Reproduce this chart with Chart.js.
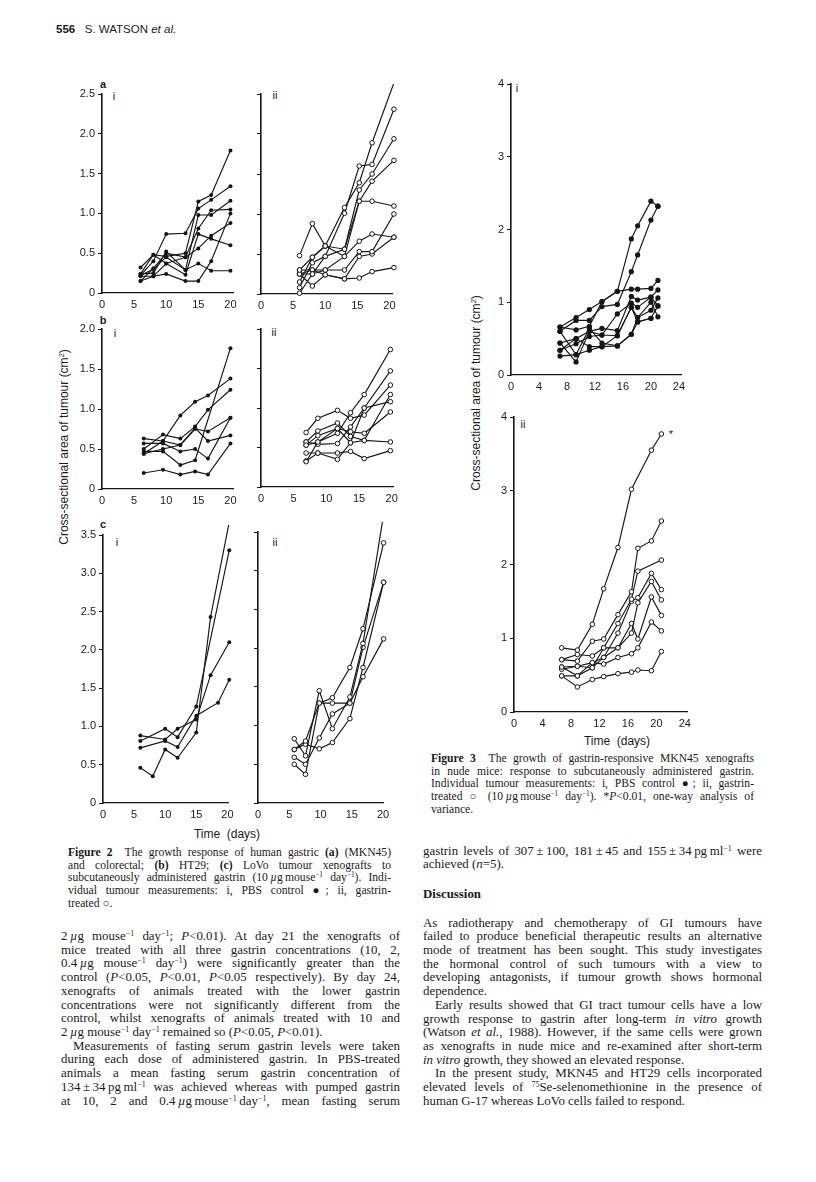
<!DOCTYPE html>
<html lang="en">
<head>
<meta charset="UTF-8">
<title>Watson et al. 556 - Figures 2 and 3</title>
<script src="https://cdn.jsdelivr.net/npm/chart.js"></script>
<style>
  body { margin: 0; background: #fff; }
  #page { position: relative; width: 816px; height: 1182px; overflow: hidden;
          font-family: "Liberation Serif", "Times New Roman", serif; color: #1a1a1a; }
  canvas { position: absolute; }
  .sans { font-family: "Liberation Sans", Arial, Helvetica, sans-serif; }
  .lab { position: absolute; width: 40px; height: 14px; line-height: 14px; text-align: center;
         white-space: nowrap; font-size: 11px; color: #1a1a1a; }
  .ytitle { position: absolute; transform: translate(-50%, -50%) rotate(-90deg); white-space: nowrap; font-size: 12px; color: #1a1a1a; }
  .col { position: absolute; font-size: 12.9px; line-height: 13.72px; }
  .cap { position: absolute; font-size: 11.6px; line-height: 12.7px; }
  .ln { white-space: nowrap; text-align: justify; text-align-last: justify; }
  .ln.end { text-align-last: left; }
  .ind { text-indent: 12px; }
  sup { font-size: 0.62em; line-height: 0; vertical-align: 0.55em; }
</style>
</head>
<body>
<div id="page">

  <div class="sans" style="position:absolute; left:56px; top:23px; font-size:11.5px; white-space:nowrap;">
    <b>556</b>&nbsp;&nbsp;&nbsp;S. WATSON <i>et al.</i>
  </div>

  <!-- figure 2 panel letters (boxes 40x14, centred on the letter) -->
  <div class="lab sans" style="left:83px; top:77px; font-weight:bold;">a</div>
  <div class="lab sans" style="left:94px; top:89px;">i</div>
  <div class="lab sans" style="left:255px; top:88px;">ii</div>
  <div class="lab sans" style="left:83px; top:313px; font-weight:bold;">b</div>
  <div class="lab sans" style="left:95px; top:326px;">i</div>
  <div class="lab sans" style="left:254px; top:325px;">ii</div>
  <div class="lab sans" style="left:83px; top:517px; font-weight:bold;">c</div>
  <div class="lab sans" style="left:97px; top:535px;">i</div>
  <div class="lab sans" style="left:255px; top:535px;">ii</div>
  <div class="ytitle sans" style="left:64px; top:447px;">Cross-sectional area of tumour (cm<sup>2</sup>)</div>
  <div class="lab sans" style="left:187px; top:827px; width:80px; font-size:12px;">Time&nbsp;&nbsp;(days)</div>

  <!-- figure 3 labels -->
  <div class="lab sans" style="left:497px; top:81px;">i</div>
  <div class="lab sans" style="left:503px; top:417px;">ii</div>
  <div class="lab sans" style="left:651px; top:427px;">*</div>
  <div class="ytitle sans" style="left:476px; top:393px;">Cross-sectional area of tumour (cm<sup>2</sup>)</div>
  <div class="lab sans" style="left:577px; top:734px; width:80px; font-size:12px;">Time&nbsp;&nbsp;(days)</div>

  <!-- captions -->
  <div class="cap" style="left:68px; top:847px; width:323px;">
    <div class="ln"><b>Figure 2</b>&nbsp; The growth response of human gastric <b>(a)</b> (MKN45)</div>
    <div class="ln">and colorectal; <b>(b)</b> HT29; <b>(c)</b> LoVo tumour xenografts to</div>
    <div class="ln">subcutaneously administered gastrin (10&thinsp;<i>µ</i>g&thinsp;mouse<sup>−1</sup> day<sup>−1</sup>). Indi-</div>
    <div class="ln">vidual tumour measurements: i, PBS control ●; ii, gastrin-</div>
    <div class="ln end">treated ○.</div>
  </div>
  <div class="cap" style="left:431px; top:753px; width:323px;">
    <div class="ln"><b>Figure 3</b>&nbsp; The growth of gastrin-responsive MKN45 xenografts</div>
    <div class="ln">in nude mice: response to subcutaneously administered gastrin.</div>
    <div class="ln">Individual tumour measurements: i, PBS control ●; ii, gastrin-</div>
    <div class="ln">treated ○ (10&thinsp;<i>µ</i>g&thinsp;mouse<sup>−1</sup> day<sup>−1</sup>). *<i>P</i>&lt;0.01, one-way analysis of</div>
    <div class="ln end">variance.</div>
  </div>

  <!-- left body column -->
  <div class="col" style="left:61px; top:930px; width:339px;">
    <div class="ln">2&thinsp;<i>µ</i>g mouse<sup>−1</sup> day<sup>−1</sup>; <i>P</i>&lt;0.01). At day 21 the xenografts of</div>
    <div class="ln">mice treated with all three gastrin concentrations (10, 2,</div>
    <div class="ln">0.4&thinsp;<i>µ</i>g mouse<sup>−1</sup> day<sup>−1</sup>) were significantly greater than the</div>
    <div class="ln">control (<i>P</i>&lt;0.05, <i>P</i>&lt;0.01, <i>P</i>&lt;0.05 respectively). By day 24,</div>
    <div class="ln">xenografts of animals treated with the lower gastrin</div>
    <div class="ln">concentrations were not significantly different from the</div>
    <div class="ln">control, whilst xenografts of animals treated with 10 and</div>
    <div class="ln end">2&thinsp;<i>µ</i>g mouse<sup>−1</sup> day<sup>−1</sup> remained so (<i>P</i>&lt;0.05, <i>P</i>&lt;0.01).</div>
    <div class="ln ind">Measurements of fasting serum gastrin levels were taken</div>
    <div class="ln">during each dose of administered gastrin. In PBS-treated</div>
    <div class="ln">animals a mean fasting serum gastrin concentration of</div>
    <div class="ln">134&thinsp;±&thinsp;34&thinsp;pg&thinsp;ml<sup>−1</sup> was achieved whereas with pumped gastrin</div>
    <div class="ln">at 10, 2 and 0.4&thinsp;<i>µ</i>g&thinsp;mouse<sup>−1</sup>&thinsp;day<sup>−1</sup>, mean fasting serum</div>
  </div>

  <!-- right body column -->
  <div class="col" style="left:423px; top:844.5px; width:339px;">
    <div class="ln">gastrin levels of 307&thinsp;±&thinsp;100, 181&thinsp;±&thinsp;45 and 155&thinsp;±&thinsp;34&thinsp;pg&thinsp;ml<sup>−1</sup> were</div>
    <div class="ln end">achieved (<i>n</i>=5).</div>
  </div>
  <div class="col" style="left:423px; top:888px; width:339px;"><b>Discussion</b></div>
  <div class="col" style="left:423px; top:916.5px; width:339px;">
    <div class="ln">As radiotherapy and chemotherapy of GI tumours have</div>
    <div class="ln">failed to produce beneficial therapeutic results an alternative</div>
    <div class="ln">mode of treatment has been sought. This study investigates</div>
    <div class="ln">the hormonal control of such tumours with a view to</div>
    <div class="ln">developing antagonists, if tumour growth shows hormonal</div>
    <div class="ln end">dependence.</div>
    <div class="ln ind">Early results showed that GI tract tumour cells have a low</div>
    <div class="ln">growth response to gastrin after long-term <i>in vitro</i> growth</div>
    <div class="ln">(Watson <i>et al.</i>, 1988). However, if the same cells were grown</div>
    <div class="ln">as xenografts in nude mice and re-examined after short-term</div>
    <div class="ln end"><i>in vitro</i> growth, they showed an elevated response.</div>
    <div class="ln ind">In the present study, MKN45 and HT29 cells incorporated</div>
    <div class="ln">elevated levels of <sup>75</sup>Se-selenomethionine in the presence of</div>
    <div class="ln end">human G-17 whereas LoVo cells failed to respond.</div>
  </div>

</div>

<script>
// ---- data (day, cross-sectional area cm2) ----

// Fig 2 a: MKN45
const f2aTicksX = [0, 5, 10, 15, 20];
const f2aTicksY = [0, 0.5, 1.0, 1.5, 2.0, 2.5];
const f2aiDays = [6, 8, 10, 13, 15, 17, 20];
const f2aiValues = [
  [0.32, 0.48, 0.46, 0.50, 1.15, 1.23, 1.79],
  [0.22, 0.40, 0.74, 0.75, 1.06, 1.17, 1.34],
  [0.24, 0.25, 0.52, 0.29, 0.98, 0.98, 1.16],
  [0.15, 0.31, 0.50, 0.45, 0.81, 1.04, 1.05],
  [0.21, 0.21, 0.37, 0.45, 0.56, 0.72, 0.88],
  [0.24, 0.48, 0.37, 0.23, 0.74, 0.68, 0.60],
  [0.15, 0.21, 0.24, 0.15, 0.15, 0.40, 1.00],
  [0.22, 0.30, 0.45, 0.29, 0.37, 0.28, 0.28]
];
const f2aiiDays = [6, 8, 10, 13, 15.3, 17.3, 20.7];
const f2aiiValues = [
  [0.48, 0.88, 0.60, 1.08, 1.39, 1.89, 2.64],
  [0.01, 0.25, 0.47, 1.01, 1.60, 1.62, 2.31],
  [0.08, 0.39, 0.47, 0.56, 1.30, 1.50, 1.94],
  [0.15, 0.46, 0.60, 0.47, 1.16, 1.41, 1.67],
  [0.30, 0.46, 0.60, 0.56, 1.16, 1.16, 1.10],
  [0.25, 0.25, 0.30, 0.47, 0.66, 0.75, 0.71],
  [0.30, 0.30, 0.30, 0.30, 0.53, 0.53, 1.00],
  [0.25, 0.10, 0.24, 0.19, 0.47, 0.50, 0.71],
  [0.25, 0.30, 0.24, 0.19, 0.20, 0.28, 0.33]
];

// Fig 2 b: HT29
const f2bTicksY = [0, 0.5, 1.0, 1.5, 2.0];
const f2biDays = [6.5, 9.5, 12.2, 14.5, 16.5, 20];
const f2biValues = [
  [0.44, 0.60, 0.92, 1.09, 1.17, 1.38],
  [0.50, 0.68, 0.63, 0.78, 0.99, 1.24],
  [0.63, 0.60, 0.55, 0.76, 0.60, 0.67],
  [0.57, 0.57, 0.47, 0.50, 0.38, 0.89],
  [0.47, 0.47, 0.30, 0.36, null, 1.76],
  [0.20, 0.24, 0.18, 0.22, 0.18, 0.57],
  [0.44, 0.50, 0.55, 0.75, 0.72, 0.89]
];
const f2biiDays = [6.9, 8.7, 11.7, 13.7, 15.8, 19.8];
const f2biiValues = [
  [0.32, 0.57, 0.68, 0.94, 1.17, 1.74],
  [0.53, 0.65, 0.74, 0.56, 1.00, 1.47],
  [0.69, 0.87, 0.97, 0.87, 0.91, 1.29],
  [0.57, 0.71, 0.81, 0.64, 0.59, 1.17],
  [0.57, 0.54, 0.55, 0.76, 1.00, 1.08],
  [0.53, 0.57, 0.74, 0.70, 0.68, 0.95],
  [0.43, 0.43, 0.43, 0.45, 0.36, 0.46],
  [0.33, 0.43, 0.35, 0.56, 0.59, 0.57]
];

// Fig 2 c: LoVo
const f2cTicksY = [0, 0.5, 1.0, 1.5, 2.0, 2.5, 3.0, 3.5];
const f2ciDays = [6, 8, 10, 12, 15, 17.3, 18.5, 20.3];
const f2ciValues = [
  [0.46, 0.35, 0.70, 0.59, 0.92, 2.43, null, 3.67],
  [0.88, null, 0.83, 0.97, 1.09, 1.67, null, 2.10],
  [0.81, null, 0.97, 0.86, 1.26, null, null, 3.30],
  [0.72, null, 0.81, 0.73, 1.14, null, 1.31, 1.61]
];
const f2ciiDays = [5.8, 7.6, 9.8, 11.9, 14.7, 16.8, 20.1];
const f2ciiValues = [
  [0.83, 0.61, 1.45, 0.96, 1.37, 2.06, 3.73],
  [0.69, 0.80, 1.29, 1.36, 1.75, 2.25, 3.36],
  [0.59, 0.50, 0.84, 1.15, 1.29, 2.01, 2.85],
  [0.50, 0.37, 1.29, 1.29, 1.29, 1.63, 2.12],
  [0.69, 0.76, 0.70, 0.78, 1.09, 1.75, 2.85]
];

// Fig 3: MKN45, PBS control (i) and gastrin (ii)
const f3TicksX = [0, 4, 8, 12, 16, 20, 24];
const f3TicksY = [0, 1, 2, 3, 4];
const f3iDays = [7, 9.3, 11.2, 13, 15.2, 17.2, 18.1, 20, 21];
const f3iValues = [
  [0.66, 0.79, 0.90, 1.01, 1.15, 1.87, 2.05, 2.39, 2.32],
  [0.60, 0.75, 0.75, 0.94, 0.97, 1.42, 1.65, 2.13, 2.32],
  [0.66, 0.62, 0.67, 1.01, 1.15, 1.18, 1.18, 1.19, 1.30],
  [0.44, 0.50, 0.60, 0.64, 0.61, 1.08, 1.03, 1.07, 1.17],
  [0.34, 0.43, 0.53, 0.55, 0.84, 0.99, 0.93, 1.07, 0.95],
  [0.26, 0.28, 0.34, 0.39, 0.40, 0.56, 0.79, 0.89, 1.06],
  [0.44, 0.18, 0.60, 0.55, 0.54, 0.93, 0.73, 0.78, 0.95],
  [0.34, 0.50, 0.39, 0.39, 0.54, 0.93, 0.79, 1.00, 0.80],
  [0.60, 0.28, 0.64, 0.44, 0.40, 0.56, 0.73, 0.78, null]
];
const f3iiDays = [6.7, 8.9, 11, 12.6, 14.6, 16.5, 17.4, 19.3, 20.7];
const f3iiValues = [
  [0.87, 0.84, 1.19, 1.67, 2.23, 3.02, null, 3.55, 3.77],
  [0.71, 0.69, 0.96, 0.99, 1.32, 1.63, 2.22, 2.32, 2.59],
  [0.71, 0.78, 0.76, 0.87, 1.20, 1.53, 1.91, null, 2.06],
  [0.61, 0.62, 0.67, 0.74, 1.07, 1.50, 1.55, 1.88, 1.66],
  [0.49, 0.49, 0.60, 0.87, 0.87, 1.07, 1.48, 1.77, 1.52],
  [0.58, 0.62, 0.60, 0.74, 0.87, 1.20, 0.99, 1.56, 1.31],
  [0.61, 0.49, 0.67, 0.65, 0.74, 0.79, 0.87, 1.22, 1.10],
  [0.49, 0.34, 0.44, 0.48, 0.52, 0.54, 0.57, 0.56, 0.82]
];

// ---- drawing ----
const TICK_FONT = { family: '"Liberation Sans", Arial, sans-serif', size: 11 };
const INK = '#151515';
const fmt1 = v => v === 0 ? '0' : v.toFixed(1);

function drawPanel(p) {
  const YW = 40, PT = 10, PR = 18, XH = 22;
  const plotW = Math.round(p.xMax * p.pxPerDay);
  const plotH = Math.round(p.y0 - p.yTop);
  const cv = document.createElement('canvas');
  cv.width = YW + plotW + PR;
  cv.height = PT + plotH + XH;
  cv.style.left = (Math.round(p.x0) - YW) + 'px';
  cv.style.top = (Math.round(p.yTop) - PT) + 'px';
  document.getElementById('page').appendChild(cv);

  const datasets = p.values.map(vals => ({
    data: p.days.map((d, i) => ({ x: d, y: vals[i] })),
    borderColor: INK,
    borderWidth: 1.15,
    tension: 0,
    spanGaps: true,
    clip: false,
    pointRadius: p.open ? 2.3 : p.r,
    pointBackgroundColor: p.open ? '#fff' : INK,
    pointBorderColor: INK,
    pointBorderWidth: p.open ? 1 : 0
  }));

  new Chart(cv, {
    type: 'line',
    data: { datasets: datasets },
    options: {
      responsive: false,
      animation: false,
      events: [],
      layout: { padding: { left: 0, top: PT, right: PR, bottom: 0 } },
      plugins: { legend: { display: false }, tooltip: { enabled: false } },
      scales: {
        x: {
          type: 'linear', min: 0, max: p.xMax,
          afterBuildTicks: s => { s.ticks = p.xTicks.map(v => ({ value: v })); },
          afterFit: s => { s.height = XH; },
          grid: { display: false, drawTicks: false },
          border: { display: true, color: INK, width: 1.3 },
          ticks: { font: TICK_FONT, color: '#1a1a1a', padding: 5, maxRotation: 0, autoSkip: false }
        },
        y: {
          type: 'linear', min: 0, max: p.yMax,
          afterBuildTicks: s => { s.ticks = p.yTicks.map(v => ({ value: v })); },
          afterFit: s => { s.width = YW; },
          grid: { drawOnChartArea: false, drawTicks: true, tickLength: 4, color: INK, lineWidth: 1 },
          border: { display: true, color: INK, width: 1.6 },
          ticks: { display: p.yLabels, font: TICK_FONT, color: '#1a1a1a', padding: 3, autoSkip: false,
                   callback: v => p.fmt(v) }
        }
      }
    }
  });
}

drawPanel({ days: f2aiDays, values: f2aiValues, x0: 101.5, pxPerDay: 6.43, xMax: 20.4, y0: 293.3, yTop: 94, yMax: 2.5,
            xTicks: f2aTicksX, yTicks: f2aTicksY, yLabels: true, fmt: fmt1, open: false, r: 2 });
drawPanel({ days: f2aiiDays, values: f2aiiValues, x0: 260.5, pxPerDay: 6.42, xMax: 20.4, y0: 293, yTop: 93.5, yMax: 2.5,
            xTicks: f2aTicksX, yTicks: f2aTicksY, yLabels: false, fmt: fmt1, open: true });
drawPanel({ days: f2biDays, values: f2biValues, x0: 101.7, pxPerDay: 6.42, xMax: 20.4, y0: 488, yTop: 328.5, yMax: 2.0,
            xTicks: f2aTicksX, yTicks: f2bTicksY, yLabels: true, fmt: fmt1, open: false, r: 2 });
drawPanel({ days: f2biiDays, values: f2biiValues, x0: 261, pxPerDay: 6.55, xMax: 20.2, y0: 487, yTop: 329, yMax: 2.0,
            xTicks: f2aTicksX, yTicks: f2bTicksY, yLabels: false, fmt: fmt1, open: true });
drawPanel({ days: f2ciDays, values: f2ciValues, x0: 102.5, pxPerDay: 6.23, xMax: 20.1, y0: 803.3, yTop: 535, yMax: 3.5,
            xTicks: f2aTicksX, yTicks: f2cTicksY, yLabels: true, fmt: fmt1, open: false, r: 2 });
drawPanel({ days: f2ciiDays, values: f2ciiValues, x0: 258, pxPerDay: 6.27, xMax: 20, y0: 802.3, yTop: 531.7, yMax: 3.5,
            xTicks: f2aTicksX, yTicks: f2cTicksY, yLabels: false, fmt: fmt1, open: true });
drawPanel({ days: f3iDays, values: f3iValues, x0: 511, pxPerDay: 7.0, xMax: 24.3, y0: 375, yTop: 84.3, yMax: 4,
            xTicks: f3TicksX, yTicks: f3TicksY, yLabels: true, fmt: v => String(v), open: false, r: 2.6 });
drawPanel({ days: f3iiDays, values: f3iiValues, x0: 514, pxPerDay: 7.1, xMax: 24.3, y0: 712.7, yTop: 417.3, yMax: 4,
            xTicks: f3TicksX, yTicks: f3TicksY, yLabels: true, fmt: v => String(v), open: true });

// squeeze any text line that is wider than its column
document.querySelectorAll('.ln').forEach(el => {
  const over = el.scrollWidth - el.clientWidth;
  if (over > 0) {
    el.style.letterSpacing = (-(over + 1) / el.textContent.length).toFixed(3) + 'px';
  }
});
</script>
</body>
</html>
